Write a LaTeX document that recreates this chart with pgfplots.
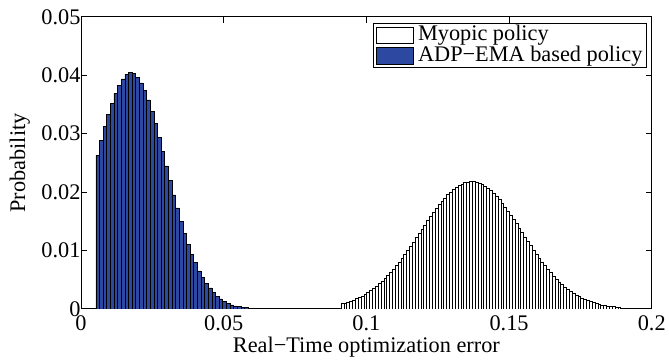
\documentclass[border=0pt]{standalone}
\usepackage{fontspec}
\setmainfont{Liberation Serif}
\usepackage{pgfplots}
\pgfplotsset{compat=1.18}
\definecolor{adpblue}{RGB}{44,72,160}
\begin{document}
\begin{tikzpicture}[font=\fontsize{22.5}{27}\selectfont]
\path (-81.7pt,-48.3pt) rectangle (587.3pt,311.7pt);
\begin{axis}[
  at={(0,0)}, anchor=south west,
  width=576pt, height=294.7pt, scale only axis,
  xmin=0, xmax=0.2, ymin=0, ymax=0.05,
  scaled ticks=false,
  xtick={0,0.05,0.1,0.15,0.2},
  xticklabels={0,0.05,0.1,0.15,0.2},
  ytick={0,0.01,0.02,0.03,0.04,0.05},
  yticklabels={0,0.01,0.02,0.03,0.04,0.05},
  /pgf/number format/assume math mode=true,
  tick align=inside, major tick length=6pt,
  xtick pos=both, ytick pos=both,
  axis line style={line width=0.9pt},
  every tick/.style={black, line width=0.9pt},
  yticklabel style={xshift=3pt},
  xticklabel style={yshift=-3.5pt},
  xlabel={Real−Time optimization error},
  ylabel={Probability},
  xlabel style={at={(axis description cs:0.5,-0.132)}, anchor=center},
  ylabel style={at={(axis description cs:-0.107,0.5)}, anchor=center},
  legend style={at={(1,1)}, anchor=north east, xshift=-5pt, yshift=-6.7pt,
    draw=black, line width=0.8pt, inner xsep=3pt, inner ysep=1pt,
    row sep=0pt, column sep=4pt,
    nodes={inner sep=1pt, text height=14.5pt, text depth=4.5pt}},
  legend cell align=left,
]
\addplot[ybar, bar width=0.001, bar shift=0pt, fill=white, draw=black, line width=0.55pt,
  legend image code/.code={\draw[fill=white, draw=black, line width=0.5pt] (0pt,-8.5pt) rectangle (37pt,8.5pt);}]
table[row sep=\\] {
x y\\
0.0916 0.00091\\
0.0926 0.00104\\
0.0936 0.00119\\
0.0946 0.00136\\
0.0956 0.00155\\
0.0966 0.00176\\
0.0976 0.00199\\
0.0986 0.00224\\
0.0996 0.00252\\
0.1006 0.00282\\
0.1016 0.00315\\
0.1026 0.00351\\
0.1036 0.00390\\
0.1046 0.00431\\
0.1056 0.00476\\
0.1066 0.00524\\
0.1076 0.00574\\
0.1086 0.00628\\
0.1096 0.00684\\
0.1106 0.00744\\
0.1116 0.00806\\
0.1126 0.00870\\
0.1136 0.00936\\
0.1146 0.01005\\
0.1156 0.01075\\
0.1166 0.01147\\
0.1176 0.01220\\
0.1186 0.01293\\
0.1196 0.01366\\
0.1206 0.01439\\
0.1216 0.01512\\
0.1226 0.01583\\
0.1236 0.01652\\
0.1246 0.01720\\
0.1256 0.01784\\
0.1266 0.01845\\
0.1276 0.01902\\
0.1286 0.01955\\
0.1296 0.02003\\
0.1306 0.02046\\
0.1316 0.02084\\
0.1326 0.02116\\
0.1336 0.02142\\
0.1346 0.02161\\
0.1356 0.02173\\
0.1366 0.02179\\
0.1376 0.02179\\
0.1386 0.02171\\
0.1396 0.02156\\
0.1406 0.02134\\
0.1416 0.02105\\
0.1426 0.02070\\
0.1436 0.02029\\
0.1446 0.01982\\
0.1456 0.01929\\
0.1466 0.01872\\
0.1476 0.01811\\
0.1486 0.01746\\
0.1496 0.01677\\
0.1506 0.01606\\
0.1516 0.01533\\
0.1526 0.01459\\
0.1536 0.01383\\
0.1546 0.01307\\
0.1556 0.01231\\
0.1566 0.01156\\
0.1576 0.01082\\
0.1586 0.01009\\
0.1596 0.00938\\
0.1606 0.00869\\
0.1616 0.00802\\
0.1626 0.00739\\
0.1636 0.00678\\
0.1646 0.00620\\
0.1656 0.00565\\
0.1666 0.00513\\
0.1676 0.00464\\
0.1686 0.00419\\
0.1696 0.00377\\
0.1706 0.00338\\
0.1716 0.00302\\
0.1726 0.00269\\
0.1736 0.00239\\
0.1746 0.00211\\
0.1756 0.00186\\
0.1766 0.00164\\
0.1776 0.00143\\
0.1786 0.00125\\
0.1796 0.00109\\
0.1806 0.00094\\
0.1816 0.00082\\
0.1826 0.00070\\
0.1836 0.00060\\
0.1846 0.00052\\
0.1856 0.00044\\
0.1866 0.00037\\
0.1876 0.00032\\
0.1886 0.00027\\
};
\addlegendentry{Myopic policy}
\addplot[ybar, bar width=0.00127, bar shift=0pt, fill=adpblue, draw=black, line width=0.5pt,
  legend image code/.code={\draw[fill=adpblue, draw=black, line width=0.5pt] (0pt,-8.5pt) rectangle (37pt,8.5pt);}]
table[row sep=\\] {
x y\\
0.00584 0.0263\\
0.00711 0.0289\\
0.00838 0.0312\\
0.00965 0.0333\\
0.01092 0.0352\\
0.01219 0.0369\\
0.01346 0.0383\\
0.01473 0.0394\\
0.01600 0.0402\\
0.01727 0.0405\\
0.01854 0.0403\\
0.01981 0.0396\\
0.02108 0.0387\\
0.02235 0.0374\\
0.02362 0.0358\\
0.02489 0.0338\\
0.02616 0.0317\\
0.02743 0.0294\\
0.02870 0.0270\\
0.02997 0.0245\\
0.03124 0.0220\\
0.03251 0.0195\\
0.03378 0.0173\\
0.03505 0.0150\\
0.03632 0.0129\\
0.03759 0.0110\\
0.03886 0.0093\\
0.04013 0.0079\\
0.04140 0.0065\\
0.04267 0.0054\\
0.04394 0.0044\\
0.04521 0.0036\\
0.04648 0.0028\\
0.04775 0.0021\\
0.04902 0.0017\\
0.05029 0.0013\\
0.05156 0.0010\\
0.05283 0.0007\\
0.05410 0.0005\\
0.05537 0.0004\\
0.05664 0.0003\\
0.05791 0.0002\\
};
\addlegendentry{ADP−EMA based policy}
\end{axis}
\end{tikzpicture}
\end{document}
